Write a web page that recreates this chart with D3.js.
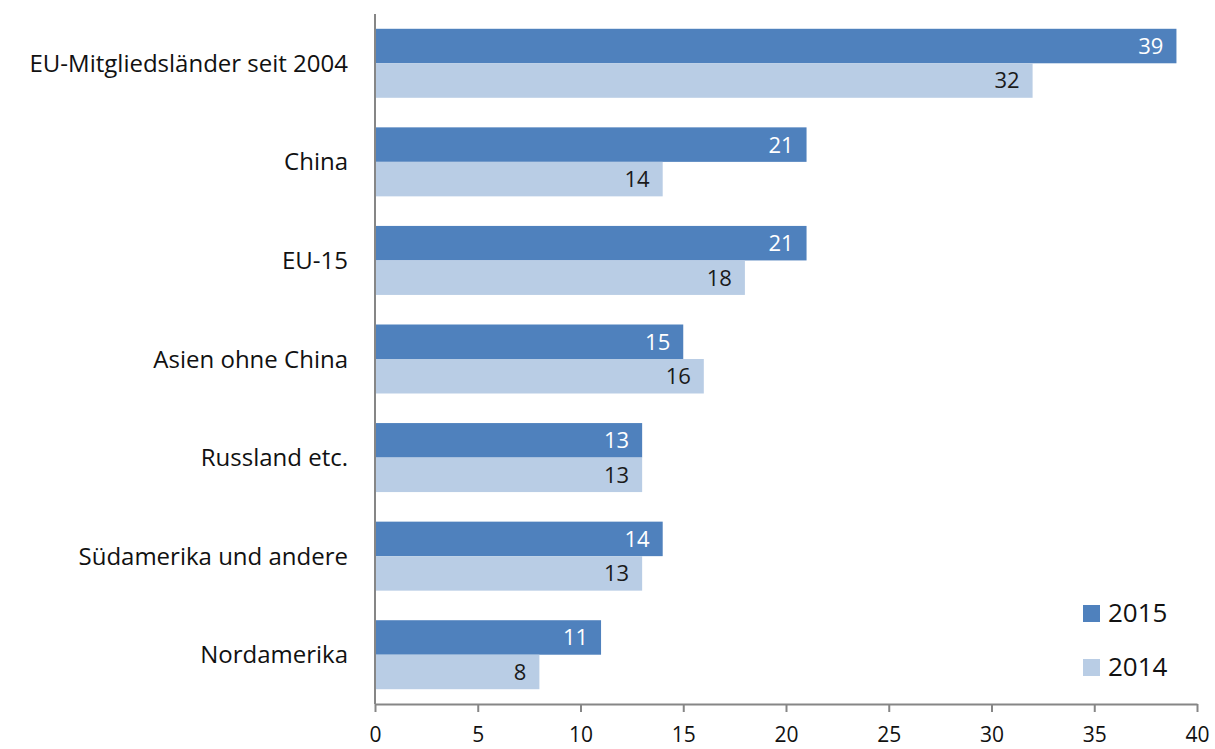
<!DOCTYPE html>
<html>
<head>
<meta charset="utf-8">
<script src="https://cdn.jsdelivr.net/npm/d3@7"></script>
<style>
  html, body { margin: 0; padding: 0; background: #fff; }
  svg text { font-family: "Open Sans", "DejaVu Sans", sans-serif; }
</style>
</head>
<body>
<svg id="chart" width="1215" height="749"></svg>
<script>
// Regions and values per year
const categories = [
  "EU-Mitgliedsländer seit 2004",
  "China",
  "EU-15",
  "Asien ohne China",
  "Russland etc.",
  "Südamerika und andere",
  "Nordamerika"
];
const values2015 = [39, 21, 21, 15, 13, 14, 11];
const values2014 = [32, 14, 18, 16, 13, 13, 8];
const seriesNames = ["2015", "2014"];
const xTicks = [0, 5, 10, 15, 20, 25, 30, 35, 40];

const colors = { "2015": "#4f81bd", "2014": "#b9cde5" };
const labelColors = { "2015": "#ffffff", "2014": "#1a1a1a" };

const svg = d3.select("#chart");
const plotLeft = 375, plotRight = 1197, plotTop = 14, plotBottom = 704;

const x = d3.scaleLinear().domain([0, 40]).range([plotLeft, plotRight]);
const y = d3.scaleBand().domain(categories).range([plotTop, plotBottom])
  .paddingInner(0.3).paddingOuter(0.15);
const ySub = d3.scaleBand().domain(seriesNames).range([0, y.bandwidth()]);

const series = [
  { name: "2015", values: values2015 },
  { name: "2014", values: values2014 }
];

// Bars with value labels at their ends
const groups = svg.append("g").selectAll("g")
  .data(categories)
  .join("g")
  .attr("transform", d => `translate(0,${y(d)})`);

groups.each(function(cat, i) {
  const g = d3.select(this);
  series.forEach(s => {
    const v = s.values[i];
    g.append("rect")
      .attr("x", x(0))
      .attr("y", ySub(s.name))
      .attr("width", x(v) - x(0))
      .attr("height", ySub.bandwidth())
      .attr("fill", colors[s.name]);
    g.append("text")
      .attr("x", x(v) - 13)
      .attr("y", ySub(s.name) + ySub.bandwidth() / 2)
      .attr("dy", "0.36em")
      .attr("text-anchor", "end")
      .attr("font-size", 22)
      .attr("fill", labelColors[s.name])
      .text(v);
  });
});

// Category labels
svg.append("g").selectAll("text")
  .data(categories)
  .join("text")
  .attr("x", 348)
  .attr("y", d => y(d) + y.bandwidth() / 2)
  .attr("dy", "0.36em")
  .attr("text-anchor", "end")
  .attr("font-size", 24)
  .attr("fill", "#111")
  .text(d => d);

// Vertical axis line
svg.append("line")
  .attr("x1", plotLeft).attr("x2", plotLeft)
  .attr("y1", plotTop).attr("y2", plotBottom)
  .attr("stroke", "#868686").attr("stroke-width", 2);

// Bottom axis
const xAxis = svg.append("g")
  .attr("transform", `translate(0,${plotBottom})`)
  .call(d3.axisBottom(x).tickValues(xTicks).tickSize(8).tickSizeOuter(0).tickPadding(15));
xAxis.select(".domain").attr("stroke", "#868686").attr("stroke-width", 2);
xAxis.selectAll(".tick line").attr("stroke", "#868686").attr("stroke-width", 2);
xAxis.selectAll(".tick text")
  .attr("font-size", 21)
  .attr("fill", "#111")
  .style("font-family", "'Open Sans', 'DejaVu Sans', sans-serif");

// Legend
const legend = svg.append("g");
seriesNames.forEach((name, i) => {
  const ly = 613 + i * 54;
  legend.append("rect")
    .attr("x", 1083).attr("y", ly - 8)
    .attr("width", 17).attr("height", 17)
    .attr("fill", colors[name]);
  legend.append("text")
    .attr("x", 1108).attr("y", ly)
    .attr("dy", "0.36em")
    .attr("font-size", 26)
    .attr("fill", "#111")
    .text(name);
});
</script>
</body>
</html>
